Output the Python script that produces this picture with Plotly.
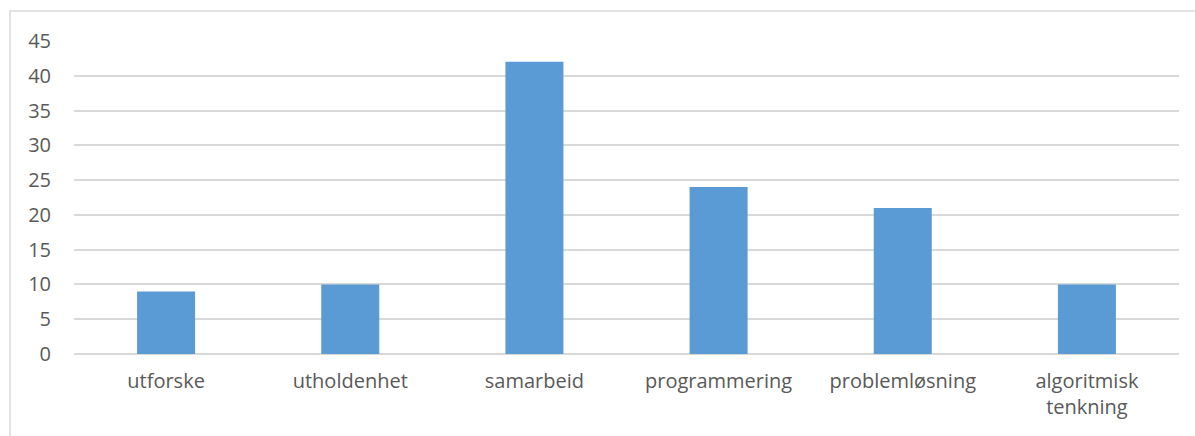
import plotly.graph_objects as go

categories = ["utforske", "utholdenhet", "samarbeid", "programmering", "problemløsning", "algoritmisk<br>tenkning"]
values = [9, 10, 42, 24, 21, 10]
y_ticks = [0, 5, 10, 15, 20, 25, 30, 35, 40, 45]

W, H = 1195, 436
L, R, T, B = 74, 16, 41, 82
pw, ph = W - L - R, H - T - B

fig = go.Figure(go.Bar(
    x=categories, y=values,
    marker=dict(color="#5B9BD5", line=dict(width=0)),
    width=0.315,
    hoverinfo="x+y",
))

font = dict(family="Open Sans", size=20, color="#595959")
fig.update_layout(
    width=W, height=H,
    margin=dict(l=L, r=R, t=T, b=B, pad=0),
    paper_bgcolor="white", plot_bgcolor="white",
    showlegend=False,
    font=font,
    xaxis=dict(showgrid=False, showline=False, zeroline=False, ticks="",
               tickfont=font, ticklabelstandoff=13),
    yaxis=dict(range=[0, 45], tickvals=y_ticks, showgrid=True, gridcolor="#D9D9D9",
               gridwidth=1.5, zeroline=True, zerolinecolor="#D9D9D9", zerolinewidth=1.5,
               showline=False, ticks="", tickfont=font, ticklabelstandoff=22),
    shapes=[dict(type="rect", xref="paper", yref="paper",
                 x0=(10 - L) / pw, x1=(W + 10 - L) / pw,
                 y0=(H - B - (H + 10)) / ph, y1=(H - B - 11) / ph,
                 line=dict(color="#D9D9D9", width=1.5), fillcolor="rgba(0,0,0,0)", layer="below")],
)

fig.write_html("out.html")
